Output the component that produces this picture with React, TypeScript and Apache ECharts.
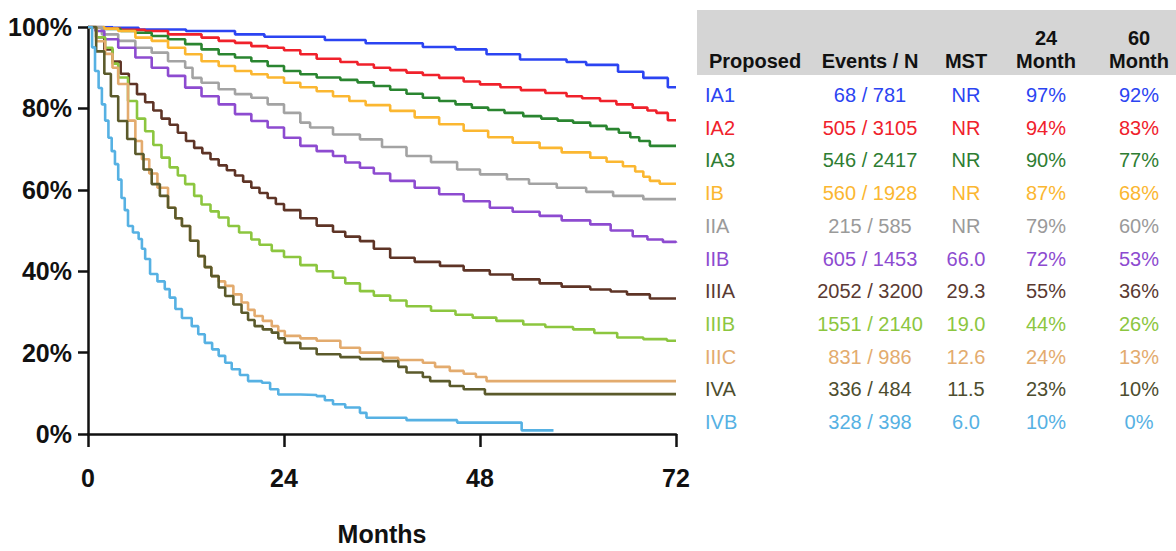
import React, { useEffect, useRef } from "react";
import * as echarts from "echarts";

// ---- data ----
const stages = ["IA1", "IA2", "IA3", "IB", "IIA", "IIB", "IIIA", "IIIB", "IIIC", "IVA", "IVB"];
const eventsN = ["68 / 781", "505 / 3105", "546 / 2417", "560 / 1928", "215 / 585", "605 / 1453", "2052 / 3200", "1551 / 2140", "831 / 986", "336 / 484", "328 / 398"];
const mst = ["NR", "NR", "NR", "NR", "NR", "66.0", "29.3", "19.0", "12.6", "11.5", "6.0"];
const month24 = ["97%", "94%", "90%", "87%", "79%", "72%", "55%", "44%", "24%", "23%", "10%"];
const month60 = ["92%", "83%", "77%", "68%", "60%", "53%", "36%", "26%", "13%", "10%", "0%"];
const headerTop = ["", "", "", "24", "60"];
const headerBottom = ["Proposed", "Events / N", "MST", "Month", "Month"];
const xTicks = [0, 24, 48, 72];

const lineColors = ["#2b44f2", "#f0212b", "#2a8530", "#fbb731", "#a3a3a3", "#8d4bd0", "#5e3426", "#8cc63f", "#e3ab6e", "#5b5a2b", "#56b1e3"];
const textColors = ["#2b44f2", "#f0212b", "#2e7d32", "#fbb731", "#9a9a9a", "#8d4bd0", "#5a3a32", "#8cc63f", "#e3ab6e", "#4d4d2e", "#56b1e3"];

const sIA1 = [[0,100],[3,99.8],[6.2,99.4],[12,99],[18,98.2],[21.6,97.6],[29,96.8],[34,96],[41,95.1],[45,94.5],[48.8,93.3],[52.9,92],[58.6,91.4],[61,90.7],[64.9,89],[68,87.5],[71,85.2],[72,85.2]];
const sIA2 = [[0,100],[2,99.6],[4,99.3],[7,99],[9.8,98.2],[13.9,97.4],[16,96.6],[18,96.1],[20,95.3],[22,94.9],[24,94.3],[26,93.3],[28,92.2],[30.9,91.4],[33,90.8],[35,90],[37,89.4],[39,88.8],[41,88.2],[43,87.5],[46,86.6],[48,85.9],[50.5,85.2],[53,84.5],[56,83.8],[58.6,83],[60.5,82.5],[62.7,81.8],[64.7,81],[66.7,80.2],[68.5,79.5],[69.6,78.9],[71,77.1],[72,77.1]];
const sIA3 = [[0,100],[2,99.5],[4,99],[5.8,98.6],[7.8,97.8],[9.8,97],[11.9,95.8],[13.9,94.5],[16,93.3],[18,92.5],[20,91.6],[22,90.4],[24,89.2],[26,88.4],[28,87.6],[30.9,87],[33,86.4],[35,85.5],[37,84.6],[39,83.6],[41,82.6],[43,81.8],[45,81],[47,80.2],[49,79.6],[51,78.9],[53.3,78.1],[55.5,77.5],[57.5,77],[59.4,76.5],[61.5,75.7],[63.5,74.9],[65,74],[66.4,72.9],[67.5,72],[68.8,70.8],[72,70.8]];
const sIB = [[0,100],[2,99.6],[3.7,99],[5.8,97.4],[7.8,96.6],[9.8,94.9],[11.9,93.3],[13.9,91.6],[16,90.4],[18,89.2],[20,88.4],[22,87.6],[24,86.3],[26,85.2],[28,84.2],[30,83],[32,81.8],[34,80.8],[37,79.4],[40,77.8],[43,76.1],[46,74.5],[49,72.9],[52,71.6],[55.3,70.3],[58,69.2],[61.5,67.9],[63.5,66.9],[65.5,65.8],[67,64.5],[68,63.2],[68.8,62.2],[70,61.5],[72,61.5]];
const sIIA = [[0,100],[1.7,98.2],[3.7,96.6],[5.8,94.9],[7.8,93.7],[9.8,91.6],[11.9,90],[12.8,87.5],[13.9,86.3],[16,84.7],[18,83.5],[20,82.6],[22,81],[24,78.9],[26,76.5],[27.2,75.3],[30,73.6],[33.3,72.4],[36,70.5],[39,68.3],[42,66.8],[45.2,65],[48,63.8],[51.3,62.6],[54,61.5],[57.4,60.5],[61,59.5],[64.3,58.5],[68,57.7],[72,57.7]];
const sIIB = [[0,100],[0.9,99],[2,97],[3.7,94.9],[5.8,92.5],[7.8,90],[9.8,88],[11.9,85.1],[13.9,83],[16,81],[18,78.6],[20,76.9],[22,75.3],[24,72.8],[26,70.8],[28,69.5],[30,68.3],[31.5,66.7],[33.3,65.4],[35,64],[37,62.2],[40,60.5],[43,58.9],[46,57.2],[49.2,55.6],[52,54.6],[55.3,53.6],[58,52.5],[61.5,51.5],[64,50],[66.7,48.6],[68.5,47.8],[70.4,47.2],[72,47]];
const sIIIA = [[0,100],[1,97.5],[2,94.5],[3,91.5],[4,88.5],[5,86],[6,83.5],[7,81.5],[8,79.5],[9,77.5],[10,76],[11,74],[12,72],[13,70.3],[14,69],[15,67.5],[16,66],[17,64.8],[18,63.5],[19,62],[20,60.5],[21,59.2],[22,58],[23,56.5],[24,55],[26,53],[28,51.2],[30,49.7],[31.5,48.5],[33.3,47.4],[35,45.5],[37,43.3],[40,42.3],[43.1,41.3],[46,40.2],[49.2,39.2],[52,38],[55.3,37],[58,36.2],[61.5,35.5],[64,35],[66,34.3],[68.8,33.3],[72,33.3]];
const sIIIB = [[0,100],[1,97.5],[2.1,94.9],[3,91],[3.7,87.6],[4.9,81.8],[6,77.5],[7,74.4],[8,71],[9,67.9],[10,65.5],[11,63.5],[11.9,61.4],[13,58.5],[13.9,56.4],[15,54.7],[16,53.2],[17.2,51.1],[18.5,49.5],[20,47.8],[21,46.5],[22.5,45],[24,43.5],[26,41.5],[28,40],[30,38.4],[31.5,37],[33.3,35.1],[35,34],[37,32.8],[39,31.4],[42,30.3],[45,29.3],[47.1,28.6],[50,27.8],[53.3,26.9],[56,26.3],[59.4,25.7],[62,24.8],[64.8,23.7],[68,23.3],[70.9,22.9],[72,22.9]];
const sIIIC = [[0,100],[1,96.5],[2.1,93.4],[3,90],[3.7,86],[4.9,77],[5.8,72],[6.6,67.5],[7.5,64],[8.5,60.5],[9.8,55.6],[10.7,53],[11.5,51.1],[12.5,47.5],[13.5,43.7],[14.3,41],[15.1,38.8],[16,37.5],[16.8,36.4],[17.8,34.3],[18.8,32.3],[19.6,30.5],[20.4,29],[21.4,27.8],[22.5,26.5],[23.3,25.3],[24.1,24.1],[26,23.5],[28,22.9],[30.9,21.2],[33.3,20],[36.1,18.7],[38,18.2],[41,17.5],[42.5,16.5],[44.3,15.5],[46,14.8],[47.5,14],[48.8,13],[72,13]];
const sIVA = [[0,100],[1,94],[2,88.5],[2.8,83],[3.7,76.9],[4.8,72.5],[5.8,68.8],[6.8,65],[7.8,61.4],[8.8,58.5],[9.8,55.6],[10.7,53],[11.5,51.1],[12.5,47.5],[13.5,43.7],[14.3,41],[15.1,38.8],[16,36],[16.8,33.9],[17.8,31.8],[18.8,29.8],[19.6,28],[20.4,26.5],[21.4,25.7],[22.5,24.9],[23.3,23.5],[24.1,22.4],[26,21],[28,19.6],[30.9,18.9],[33.3,18.4],[36.1,17.9],[38,16.5],[39,15.1],[41,14],[41.9,13],[44.3,11.8],[46,11],[48.6,9.8],[72,9.8]];
const sIVB = [[0,100],[0.5,95],[0.86,89.2],[1.3,85],[1.7,81],[2.1,77],[2.5,72.8],[2.9,69.5],[3.3,66.3],[3.7,62.5],[4.1,58],[4.5,55],[4.9,51.1],[5.5,49.5],[6.2,47.9],[6.6,45.5],[7,43],[7.6,39.3],[8.5,37.5],[9.4,35.6],[10,33.5],[10.7,30.7],[11.5,28.5],[12.7,26.5],[13.5,24.5],[14.3,22.4],[15.2,20.8],[16,19.2],[16.8,17.5],[17.6,15.9],[18.6,14.5],[19.6,13],[21.3,12.6],[22.3,11],[23.3,9.7],[26,9.6],[28,9.3],[29,8.3],[30,7.3],[31.5,6.5],[33.3,5.2],[34.1,4],[39,3.4],[45.2,2.8],[53.1,0.9],[57,0.9]];
const curves = [sIA1, sIA2, sIA3, sIB, sIIA, sIIB, sIIIA, sIIIB, sIIIC, sIVA, sIVB];

const AXIS_FONT = "'Liberation Sans', Arial, sans-serif";
const TABLE_FONT = "'Liberation Sans', Arial, sans-serif";

export default function App() {
  const ref = useRef<HTMLDivElement>(null);
  useEffect(() => {
    if (!ref.current) return;
    const chart = echarts.init(ref.current, undefined, { renderer: "svg" });

    const colX = [705, 870, 966, 1046, 1139];
    const rowY0 = 95;
    const rowStep = 32.7;
    const graphics: any[] = [
      { type: "rect", shape: { x: 697, y: 10, width: 479, height: 65 }, style: { fill: "#d5d5d5" }, silent: true },
    ];
    headerBottom.forEach((t, i) => {
      graphics.push({
        type: "text",
        x: i === 0 ? 755 : colX[i],
        y: 61,
        style: { text: t, fill: "#111", font: `bold 20px ${TABLE_FONT}`, textAlign: "center", textVerticalAlign: "middle" },
      });
      if (headerTop[i]) {
        graphics.push({
          type: "text",
          x: colX[i],
          y: 38,
          style: { text: headerTop[i], fill: "#111", font: `bold 20px ${TABLE_FONT}`, textAlign: "center", textVerticalAlign: "middle" },
        });
      }
    });
    stages.forEach((s, r) => {
      const y = rowY0 + r * rowStep;
      const cells = [s, eventsN[r], mst[r], month24[r], month60[r]];
      cells.forEach((c, i) => {
        graphics.push({
          type: "text",
          x: colX[i],
          y,
          style: {
            text: c,
            fill: textColors[r],
            font: `20px ${TABLE_FONT}`,
            textAlign: i === 0 ? "left" : "center",
            textVerticalAlign: "middle",
          },
        });
      });
    });

    chart.setOption({
      animation: false,
      backgroundColor: "#ffffff",
      grid: { left: 88, right: 500, top: 27, bottom: 117, containLabel: false, outerBoundsMode: "none" },
      xAxis: {
        type: "value",
        min: 0,
        max: 72,
        interval: 24,
        axisLine: { show: true, onZero: false, lineStyle: { color: "#111", width: 2.5 } },
        axisTick: { show: true, length: 13, lineStyle: { color: "#111", width: 2.5 } },
        splitLine: { show: false },
        axisLabel: {
          color: "#111",
          fontSize: 25,
          fontWeight: "bold",
          fontFamily: AXIS_FONT,
          margin: 31,
          customValues: xTicks,
        },
        name: "Months",
        nameLocation: "middle",
        nameGap: 87,
        nameTextStyle: { color: "#111", fontSize: 25, fontWeight: "bold", fontFamily: AXIS_FONT },
      },
      yAxis: {
        type: "value",
        min: 0,
        max: 100,
        interval: 20,
        axisLine: { show: true, lineStyle: { color: "#111", width: 2.5 } },
        axisTick: { show: true, length: 10, lineStyle: { color: "#111", width: 2.5 } },
        splitLine: { show: false },
        axisLabel: {
          color: "#111",
          fontSize: 25,
          fontWeight: "bold",
          fontFamily: AXIS_FONT,
          margin: 16,
          formatter: "{value}%",
        },
      },
      series: curves.map((d, i) => ({
        name: stages[i],
        type: "line",
        step: "end",
        data: d,
        showSymbol: false,
        symbol: "none",
        color: lineColors[i],
        lineStyle: { color: lineColors[i], width: 2.6 },
        z: 2 + i,
      })),
      graphic: graphics,
    });
    return () => chart.dispose();
  }, []);
  return <div ref={ref} style={{ position: "fixed", left: 0, top: 0, width: 1176, height: 551, background: "#fff" }} />;
}
